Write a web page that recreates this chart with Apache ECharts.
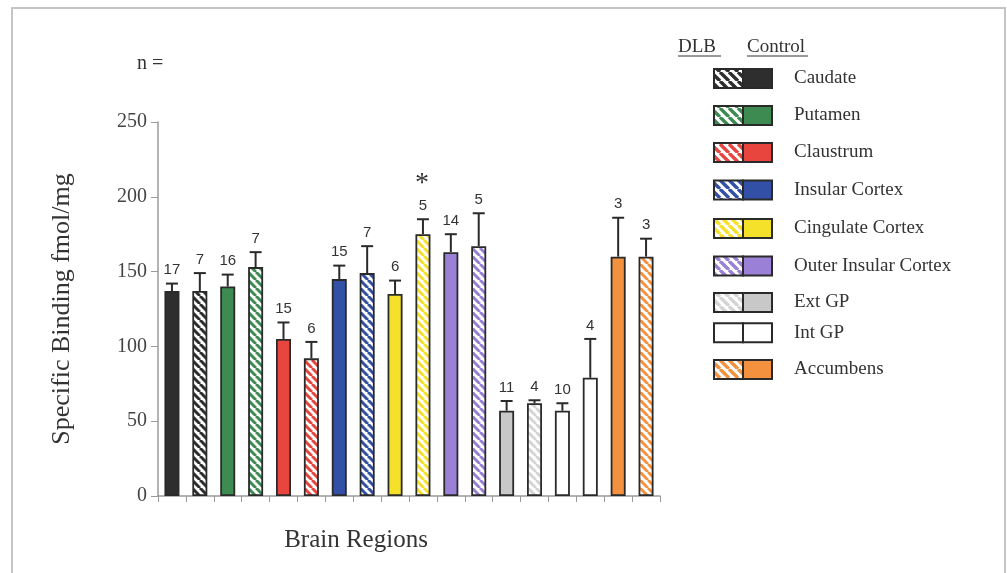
<!DOCTYPE html>
<html>
<head>
<meta charset="utf-8">
<script src="https://cdn.jsdelivr.net/npm/echarts@6/dist/echarts.min.js"></script>
<style>
  html, body { margin: 0; padding: 0; background: #fff; }
  #chart { width: 1007px; height: 573px; }
</style>
</head>
<body>
<div id="chart"></div>
<script>
// Brain regions, each with a Control bar (solid) and a DLB bar (hatched)
const regions = ['Caudate', 'Putamen', 'Claustrum', 'Insular Cortex', 'Cingulate Cortex',
                 'Outer Insular Cortex', 'Ext GP', 'Int GP', 'Accumbens'];

// Specific binding (fmol/mg): mean and error (SEM) per region
const controlMean = [137, 140, 105, 145, 135, 163, 57, 57, 160];
const controlErr  = [5, 8, 11, 9, 9, 12, 6.5, 5, 26];
const controlN    = [17, 16, 15, 15, 6, 14, 11, 10, 3];

const dlbMean = [137, 153, 92, 149, 175, 167, 62, 79, 160];
const dlbErr  = [12, 10, 11, 18, 10, 22, 2, 26, 12];
const dlbN    = [7, 7, 6, 7, 5, 5, 4, 4, 3];

// Significant difference marker (*) above the DLB bar
const dlbSignificant = [false, false, false, false, true, false, false, false, false];

// y axis range
const yMin = 0, yMax = 250, yStep = 50;

// Fill colours per region: solid for Control, stripe colour for DLB (null = plain white)
const solidColors  = ['#2e2e2e', '#3e8b52', '#e8453f', '#3150a6', '#f6e12a', '#9a80d6', '#c8c8c8', '#ffffff', '#f4913e'];
const stripeColors = ['#2e2e2e', '#3e8b52', '#e8453f', '#3150a6', '#f6e12a', '#9a80d6', '#d4d4d4', null, '#f4913e'];

const OUTLINE = '#2a2a2a';
const SERIF = '"Liberation Serif", "Times New Roman", serif';
const SANS = '"Liberation Sans", Arial, sans-serif';

// Diagonal "\" stripes on white, as a repeatable canvas pattern
function hatch(stripe, s, lw) {
  if (!stripe) return '#ffffff';
  s = s || 8;
  lw = lw || 3;
  const c = document.createElement('canvas');
  c.width = s; c.height = s;
  const g = c.getContext('2d');
  g.fillStyle = '#ffffff';
  g.fillRect(0, 0, s, s);
  g.strokeStyle = stripe;
  g.lineWidth = lw;
  g.beginPath();
  for (let k = -1; k <= 1; k++) {
    g.moveTo(k * s, 0);
    g.lineTo(k * s + s, s);
  }
  g.stroke();
  return { image: c, repeat: 'repeat' };
}

// Flatten into 18 bars: Control then DLB for each region
const barNames = [];
const barData = [];
const errData = [];
regions.forEach((r, i) => {
  const ci = barNames.length;
  barNames.push(r + ' Control');
  barData.push({ value: controlMean[i], itemStyle: { color: solidColors[i] } });
  errData.push([ci, controlMean[i], controlMean[i] + controlErr[i], controlN[i], 0]);

  const di = barNames.length;
  barNames.push(r + ' DLB');
  barData.push({ value: dlbMean[i], itemStyle: { color: hatch(stripeColors[i], 8, 3) } });
  errData.push([di, dlbMean[i], dlbMean[i] + dlbErr[i], dlbN[i], dlbSignificant[i] ? 1 : 0]);
});

// Error bars with cap, n label above, and optional asterisk
function renderErr(params, api) {
  const x = api.value(0);
  const base = api.coord([x, api.value(1)]);
  const top = api.coord([x, api.value(2)]);
  const n = api.value(3);
  const sig = api.value(4);
  const capHalf = 6;
  const children = [
    { type: 'line', shape: { x1: base[0], y1: base[1], x2: top[0], y2: top[1] },
      style: { stroke: OUTLINE, lineWidth: 2 } },
    { type: 'line', shape: { x1: top[0] - capHalf, y1: top[1], x2: top[0] + capHalf, y2: top[1] },
      style: { stroke: OUTLINE, lineWidth: 2 } },
    { type: 'text', x: top[0], y: top[1] - 6,
      style: { text: String(n), align: 'center', verticalAlign: 'bottom', font: '15px ' + SANS, fill: '#333' } }
  ];
  if (sig) {
    children.push({ type: 'text', x: top[0] - 1, y: top[1] - 22,
      style: { text: '*', align: 'center', verticalAlign: 'bottom', font: '28px ' + SERIF, fill: '#333' } });
  }
  return { type: 'group', children };
}

// Legend (custom): DLB / Control header with split swatches
const legendRowY = [78.5, 115.5, 152.5, 190, 228.5, 266, 302.5, 332.7, 369.5];
const legendGraphics = [];
const swX = 714, swHalf = 29, swH = 19, textX = 794;
legendGraphics.push(
  { type: 'text', x: 678, y: 47, style: { text: 'DLB', font: '19px ' + SERIF, fill: '#333', verticalAlign: 'middle' } },
  { type: 'line', shape: { x1: 678, y1: 56, x2: 721, y2: 56 }, style: { stroke: '#333', lineWidth: 1 } },
  { type: 'text', x: 747, y: 47, style: { text: 'Control', font: '19px ' + SERIF, fill: '#333', verticalAlign: 'middle' } },
  { type: 'line', shape: { x1: 747, y1: 56, x2: 808, y2: 56 }, style: { stroke: '#333', lineWidth: 1 } }
);
regions.forEach((r, i) => {
  const cy = legendRowY[i];
  const y0 = cy - swH / 2;
  legendGraphics.push(
    { type: 'rect', shape: { x: swX, y: y0, width: swHalf, height: swH },
      style: { fill: hatch(stripeColors[i], 9, 3.4), stroke: OUTLINE, lineWidth: 2 } },
    { type: 'rect', shape: { x: swX + swHalf, y: y0, width: swHalf, height: swH },
      style: { fill: solidColors[i], stroke: OUTLINE, lineWidth: 2 } },
    { type: 'text', x: textX, y: cy, style: { text: r, font: '19px ' + SERIF, fill: '#333', verticalAlign: 'middle' } }
  );
});

const chart = echarts.init(document.getElementById('chart'), null, { renderer: 'canvas' });
chart.setOption({
  backgroundColor: '#ffffff',
  animation: false,
  grid: { left: 158, right: 347, top: 122, bottom: 77, containLabel: false },
  xAxis: {
    type: 'category',
    data: barNames,
    axisLine: { lineStyle: { color: '#9a9a9a', width: 1.5 } },
    axisTick: { show: true, interval: 0, length: 6, lineStyle: { color: '#9a9a9a', width: 1 } },
    axisLabel: { show: false, interval: 0 },
    splitLine: { show: false }
  },
  yAxis: {
    type: 'value',
    min: yMin, max: yMax, interval: yStep,
    name: 'Specific Binding fmol/mg',
    nameLocation: 'middle',
    nameRotate: 90,
    nameGap: 83,
    nameTextStyle: { fontFamily: SERIF, fontSize: 26, color: '#333' },
    axisLine: { show: true, lineStyle: { color: '#9a9a9a', width: 1.5 } },
    axisTick: { show: true, length: 7, lineStyle: { color: '#9a9a9a' } },
    axisLabel: { fontFamily: SERIF, fontSize: 20, color: '#444', margin: 11 },
    splitLine: { show: false }
  },
  series: [
    {
      type: 'bar',
      data: barData,
      barWidth: 15,
      itemStyle: { borderColor: OUTLINE, borderWidth: 1.8 },
      z: 2
    },
    {
      type: 'custom',
      data: errData,
      renderItem: renderErr,
      encode: { x: 0, y: 2 },
      z: 3
    }
  ],
  graphic: [
    { type: 'rect', shape: { x: 12, y: 8, width: 993, height: 600 },
      style: { fill: 'none', stroke: '#c4c4c4', lineWidth: 2 }, z: 0 },
    { type: 'text', x: 137, y: 64, style: { text: 'n =', font: '20px ' + SERIF, fill: '#333', verticalAlign: 'middle' } },
    { type: 'text', x: 356, y: 540, style: { text: 'Brain Regions', font: '25px ' + SERIF, fill: '#333', align: 'center', verticalAlign: 'middle' } }
  ].concat(legendGraphics)
});
</script>
</body>
</html>
